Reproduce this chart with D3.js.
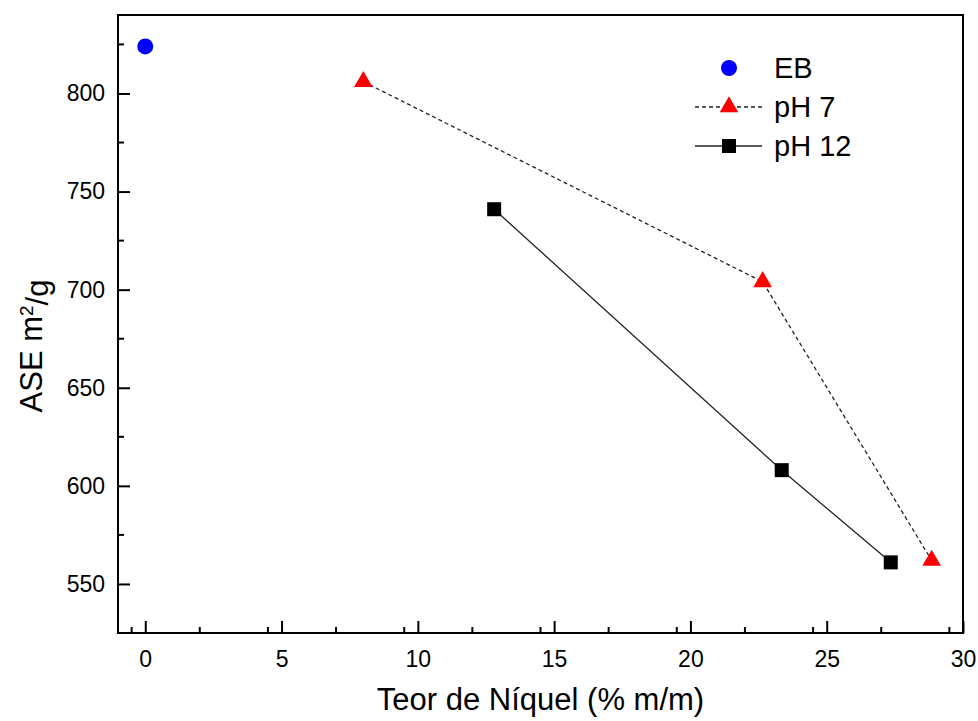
<!DOCTYPE html>
<html>
<head>
<meta charset="utf-8">
<script src="https://cdn.jsdelivr.net/npm/d3@7"></script>
<style>
  html, body { margin: 0; padding: 0; background: #fff; }
  #chart { width: 978px; height: 721px; }
  text { font-family: "Liberation Sans", Arial, sans-serif; fill: #000; }
</style>
</head>
<body>
<div id="chart"></div>
<script>
// values
const ebX = [0];
const ebY = [824];
const ph7X = [8.0, 22.65, 28.85];
const ph7Y = [806, 704, 562];
const ph12X = [12.8, 23.35, 27.35];
const ph12Y = [741, 608, 561];
const xTicks = [0, 5, 10, 15, 20, 25, 30];
const yTicks = [550, 600, 650, 700, 750, 800];
const legendLabels = ["EB", "pH 7", "pH 12"];

function draw() {
  const w = 978, h = 721;
  const margin = { top: 15, right: 15, bottom: 88, left: 118 };
  const innerW = w - margin.left - margin.right;
  const innerH = h - margin.top - margin.bottom;

  const svg = d3.select("#chart").append("svg")
    .attr("width", w).attr("height", h);
  const g = svg.append("g")
    .attr("transform", `translate(${margin.left},${margin.top})`);

  const x = d3.scaleLinear().domain([-1, 30]).range([0, innerW]);
  const y = d3.scaleLinear().domain([525, 840]).range([innerH, 0]);

  // minor ticks (inward)
  const xMinor = d3.range(-0.5, 30, 2.5).filter(v => v > -1 && !xTicks.includes(v));
  const yMinor = d3.range(525, 840, 25).filter(v => !yTicks.includes(v) && v > 525);

  g.selectAll("line.xminor").data(xMinor).join("line")
    .attr("x1", d => x(d)).attr("x2", d => x(d))
    .attr("y1", innerH).attr("y2", innerH - 6)
    .attr("stroke", "#000").attr("stroke-width", 2);
  g.selectAll("line.yminor").data(yMinor).join("line")
    .attr("x1", 0).attr("x2", 6)
    .attr("y1", d => y(d)).attr("y2", d => y(d))
    .attr("stroke", "#000").attr("stroke-width", 2);

  // x axis
  const xAxis = g.append("g")
    .attr("transform", `translate(0,${innerH})`)
    .call(d3.axisBottom(x).tickValues(xTicks).tickSize(-12).tickPadding(18).tickSizeOuter(0));
  xAxis.select(".domain").remove();
  xAxis.selectAll(".tick line").attr("stroke-width", 2);
  xAxis.selectAll("text").style("font-size", "23px").attr("dy", "0.71em");

  // y axis
  const yAxis = g.append("g")
    .call(d3.axisLeft(y).tickValues(yTicks).tickSize(-12).tickPadding(13).tickSizeOuter(0));
  yAxis.select(".domain").remove();
  yAxis.selectAll(".tick line").attr("stroke-width", 2);
  yAxis.selectAll("text").style("font-size", "23px");

  // frame
  g.append("rect")
    .attr("width", innerW).attr("height", innerH)
    .attr("fill", "none").attr("stroke", "#000").attr("stroke-width", 2);

  // lines
  const line = d3.line().x(d => x(d[0])).y(d => y(d[1]));
  const ph7 = ph7X.map((v, i) => [v, ph7Y[i]]);
  const ph12 = ph12X.map((v, i) => [v, ph12Y[i]]);
  const eb = ebX.map((v, i) => [v, ebY[i]]);

  g.append("path").datum(ph7).attr("d", line)
    .attr("fill", "none").attr("stroke", "#222").attr("stroke-width", 1.3)
    .attr("stroke-dasharray", "4,3");
  g.append("path").datum(ph12).attr("d", line)
    .attr("fill", "none").attr("stroke", "#222").attr("stroke-width", 1.3);

  const tri = d3.symbol().type(d3.symbolTriangle).size(150);
  const sq = d3.symbol().type(d3.symbolSquare).size(196);

  g.selectAll("circle.eb").data(eb).join("circle")
    .attr("cx", d => x(d[0])).attr("cy", d => y(d[1])).attr("r", 8)
    .attr("fill", "#0000ff");
  g.selectAll("path.ph7").data(ph7).join("path")
    .attr("transform", d => `translate(${x(d[0])},${y(d[1])})`)
    .attr("d", tri).attr("fill", "#ff0000");
  g.selectAll("path.ph12").data(ph12).join("path")
    .attr("transform", d => `translate(${x(d[0])},${y(d[1])})`)
    .attr("d", sq).attr("fill", "#000");

  // axis titles
  svg.append("text")
    .attr("x", margin.left + innerW / 2).attr("y", 710)
    .attr("text-anchor", "middle").style("font-size", "31px")
    .text("Teor de Níquel (% m/m)");

  const yt = svg.append("text")
    .attr("transform", "translate(42,346) rotate(-90)")
    .attr("text-anchor", "middle").style("font-size", "31px");
  yt.append("tspan").text("ASE m");
  yt.append("tspan").attr("dy", "-0.5em").style("font-size", "19px").text("2");
  yt.append("tspan").attr("dy", "0.5em").text("/g");

  // legend
  const leg = svg.append("g");
  const rows = [68, 107, 146];
  const lx0 = 695, lx1 = 762, lm = 729, tx = 774;

  leg.append("circle").attr("cx", lm).attr("cy", rows[0]).attr("r", 8).attr("fill", "#0000ff");
  leg.append("line").attr("x1", lx0).attr("x2", lx1).attr("y1", rows[1]).attr("y2", rows[1])
    .attr("stroke", "#222").attr("stroke-width", 1.3).attr("stroke-dasharray", "4,3");
  leg.append("path").attr("transform", `translate(${lm},${rows[1]})`).attr("d", tri).attr("fill", "#ff0000");
  leg.append("line").attr("x1", lx0).attr("x2", lx1).attr("y1", rows[2]).attr("y2", rows[2])
    .attr("stroke", "#222").attr("stroke-width", 1.3);
  leg.append("path").attr("transform", `translate(${lm},${rows[2]})`).attr("d", sq).attr("fill", "#000");

  leg.selectAll("text").data(legendLabels).join("text")
    .attr("x", tx).attr("y", (d, i) => rows[i])
    .attr("dy", "0.36em").style("font-size", "29px")
    .text(d => d);
}

draw();
</script>
</body>
</html>
